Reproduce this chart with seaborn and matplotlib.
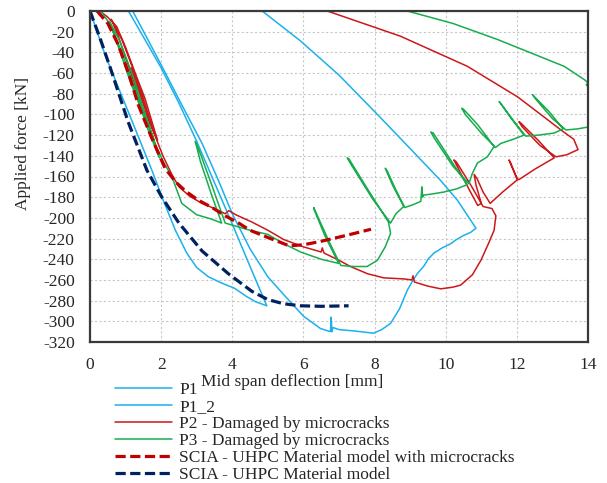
import matplotlib
matplotlib.use("Agg")
import matplotlib.pyplot as plt
import seaborn as sns

# --- data (deflection in mm, force in kN) ---
p1_x = [0, 0.2, 0.42, 0.75, 1.07, 1.4, 1.74, 2.06, 2.4, 2.72, 3.0, 3.33, 3.7, 4.06, 4.4, 4.65, 4.97,
        4.5, 4.0, 3.5, 3.0, 2.5, 2.0, 1.5, 1.08]
p1_y = [0, -20, -42, -70, -97, -125, -154, -183, -212, -234, -248, -257, -263, -268, -276, -281, -285,
        -247, -206, -166, -126, -89, -55, -25, 0]

p1b_x = [1.2, 2.0, 2.6, 3.15, 3.6, 4.0, 4.5, 5.0, 5.44, 6.0, 6.48, 6.76, 6.78, 6.8, 6.83, 7.0, 7.32,
         7.6, 7.97, 8.2, 8.45, 8.7, 8.92, 9.05, 9.2, 9.4, 9.5, 9.67, 9.9, 10.14, 10.3, 10.5, 10.7, 10.85,
         10.33, 9.86, 9.0, 8.08, 7.0, 5.92, 4.84]
p1b_y = [0, -52, -92, -128, -163, -196, -230, -257, -274, -295, -307, -310, -296, -310, -306, -308, -309,
         -310, -311.5, -308, -302, -288, -270, -262, -254, -246, -240, -234, -229, -225, -221, -217, -214, -210,
         -183, -164, -133, -100, -62, -29, 0]

p2_x = [0.15, 0.28, 0.5, 0.75, 1.0, 1.27, 1.55, 1.75, 1.9, 1.5, 1.1, 0.8, 0.6, 0.9, 1.2, 1.5, 1.72,
        1.45, 1.15, 1.4, 1.8, 2.05, 2.3,
        2.5, 2.8, 3.15, 3.5, 3.8, 3.9, 4.1, 4.55, 5.0, 5.45, 6.0, 6.5, 6.53, 6.58, 7.0, 7.32, 7.8, 8.26,
        8.82, 9.05, 9.08, 9.12, 9.5, 9.86, 10.2, 10.42, 10.75, 10.99, 11.2, 11.36, 11.41, 11.3, 11.05,
        10.7, 10.3, 10.23, 10.32, 10.65, 10.9, 11.0, 10.85, 10.8, 10.88, 11.05, 11.25, 11.6, 12.02,
        11.85, 11.78, 11.84, 12.0, 12.06, 12.5, 13.05, 12.6, 12.1, 12.06, 12.15, 12.65, 13.1, 13.4,
        13.72, 13.6, 13.24, 12.86, 12.02, 10.61, 8.73, 6.67]
p2_y = [0, 0, -6, -15, -35, -60, -85, -108, -125, -95, -55, -25, -8, -28, -55, -85, -110,
        -85, -55, -78, -118, -140, -158,
        -170, -179, -186, -191, -196, -193, -197, -204, -212, -221, -228, -233, -229, -234, -241, -247, -254, -258,
        -259, -260, -256, -262, -266, -268.6, -267, -265, -255, -241, -225, -212, -198, -191, -189,
        -168, -146, -144, -150, -172, -188, -186, -168, -158, -162, -175, -186, -175, -163,
        -150, -144, -148, -162, -163, -153, -142, -125, -108, -107, -112, -130, -141, -139,
        -134, -124, -115, -105, -83, -53.5, -24.4, 0]

p3_x = [0.3, 0.55, 0.9, 1.25, 1.5, 1.15, 0.8, 0.55, 0.85, 1.2, 1.55, 1.8, 1.4, 1.0, 1.35, 1.7, 1.95,
        1.6, 1.25, 1.55, 1.85, 2.05, 2.3,
        2.58, 3.0, 3.4, 3.7, 3.4, 3.1, 2.96, 3.05, 3.4, 3.8, 4.5, 5.0, 5.45, 5.92, 6.5, 6.99,
        6.6, 6.3, 6.29, 6.38, 6.75, 7.05, 7.4, 7.79, 8.08, 8.3, 8.45, 8.39,
        7.8, 7.28, 7.23, 7.35, 7.95, 8.45, 8.6, 8.82, 8.5, 8.3, 8.36, 8.6, 8.85,
        9.1, 9.3, 9.33, 9.35, 9.37, 9.6, 9.95, 10.3, 10.6, 10.1, 9.65, 9.58, 9.7, 10.2, 10.65,
        10.75, 10.89, 11.17, 11.36, 10.9, 10.5, 10.45, 10.55, 11.0, 11.4,
        11.55, 11.9, 12.2, 11.8, 11.52, 11.5, 11.6, 11.95, 12.25,
        12.6, 13.05, 13.3, 12.9, 12.47, 12.44, 12.55, 13.0, 13.38,
        13.7, 14.08, 14.5, 14.6, 14.3, 14.05, 13.95, 14.02, 13.9, 13.33, 12.5, 11.46, 10.2, 8.92]
p3_y = [0, -12, -40, -75, -100, -70, -35, -10, -30, -62, -100, -125, -90, -52, -82, -115, -142,
        -112, -75, -100, -130, -145, -160,
        -186, -197, -201, -205, -176, -145, -126, -133, -166, -205, -212, -216, -225, -233, -240, -244,
        -217, -192, -190, -197, -225, -246, -247, -247, -241, -228, -215, -204,
        -172, -143, -142, -149, -182, -205, -196, -189, -168, -152, -155, -173, -190,
        -187, -184, -170, -180, -178, -177, -175, -172, -168, -142, -118, -117, -124, -150, -167,
        -157, -147, -141, -131, -110, -95, -94, -100, -118, -132,
        -128, -124, -120, -102, -88, -87.5, -92, -108, -121,
        -120, -118, -114, -97, -82, -81, -86, -104, -115,
        -114, -111.7, -110, -100, -82, -76, -71, -70, -66.4, -53.5, -42, -27.6, -12, 0]

scia_mc_x = [0.2, 0.5, 0.8, 1.1, 1.36, 1.75, 2.11, 2.4, 2.68, 3.05, 3.43, 3.8, 4.18, 4.5, 5.0, 5.6,
             6.0, 6.45, 7.2, 7.9]
scia_mc_y = [0, -12, -33, -62, -91, -124, -152, -165, -174, -183, -190, -198, -205, -212, -219, -227,
             -226, -223, -217, -211]

scia_x = [0, 0.3, 0.6, 1.07, 1.6, 2.02, 2.5, 3.15, 3.89, 4.55, 5.0, 5.44, 5.92, 6.5, 7.27]
scia_y = [0, -28, -58, -107, -154, -180, -205, -232, -254, -271, -279, -283, -285, -285.5, -285]

x_ticks = list(range(0, 15, 2))
y_ticks = list(range(-320, 1, 20))

sns.set_style("white")
plt.rcParams["font.family"] = ["Liberation Serif", "DejaVu Serif"]
plt.rcParams["axes.unicode_minus"] = False

fig = plt.figure(figsize=(6.07, 4.83), dpi=100)
ax = fig.add_axes([90 / 607, 1 - 342 / 483, 498 / 607, 331 / 483])

blue = "#1CB0EC"
red = "#CC1818"
green = "#17AD4E"
dash = (0, (3.2, 1.4))

sns.lineplot(x=p1_x, y=p1_y, sort=False, estimator=None, ax=ax, color=blue, lw=1.1, label="P1")
sns.lineplot(x=p1b_x, y=p1b_y, sort=False, estimator=None, ax=ax, color=blue, lw=1.1, label="P1_2")
sns.lineplot(x=p2_x, y=p2_y, sort=False, estimator=None, ax=ax, color=red, lw=1.1,
             label="P2 - Damaged by microcracks")
sns.lineplot(x=p3_x, y=p3_y, sort=False, estimator=None, ax=ax, color=green, lw=1.1,
             label="P3 - Damaged by microcracks")
sns.lineplot(x=scia_mc_x, y=scia_mc_y, sort=False, estimator=None, ax=ax, color="#C00000", lw=2.3,
             linestyle=dash, label="SCIA - UHPC Material model with microcracks")
sns.lineplot(x=scia_x, y=scia_y, sort=False, estimator=None, ax=ax, color="#002060", lw=2.3,
             linestyle=dash, label="SCIA - UHPC Material model")

ax.set_xlim(0, 14)
ax.set_ylim(-320, 0)
ax.set_xticks(x_ticks)
ax.set_yticks(y_ticks)
ax.tick_params(length=0, labelsize=12.5, pad=11)
ax.grid(True, color="#c8c8c8", linestyle=(0, (2, 2)), lw=0.8)
for s in ax.spines.values():
    s.set_color("#3a3a3a")
    s.set_linewidth(1.6)

ax.set_xlabel("")
ax.set_ylabel("")
fig.text(292 / 607, 1 - 382 / 483, "Mid span deflection [mm]", ha="center", va="center", fontsize=12.5)
fig.text(23 / 607, 1 - 144 / 483, "Applied force [kN]", ha="center", va="center",
         rotation=90, fontsize=12.5)

handles, labels = ax.get_legend_handles_labels()
ax.get_legend().remove()
fig.legend(handles, labels, loc="upper left", bbox_to_anchor=(115 / 607, 1 - 382 / 483),
           frameon=False, fontsize=12.5, handlelength=3.3, handletextpad=0.4,
           labelspacing=0.05, borderpad=0, borderaxespad=0)

fig.savefig("out.png", dpi=100)
